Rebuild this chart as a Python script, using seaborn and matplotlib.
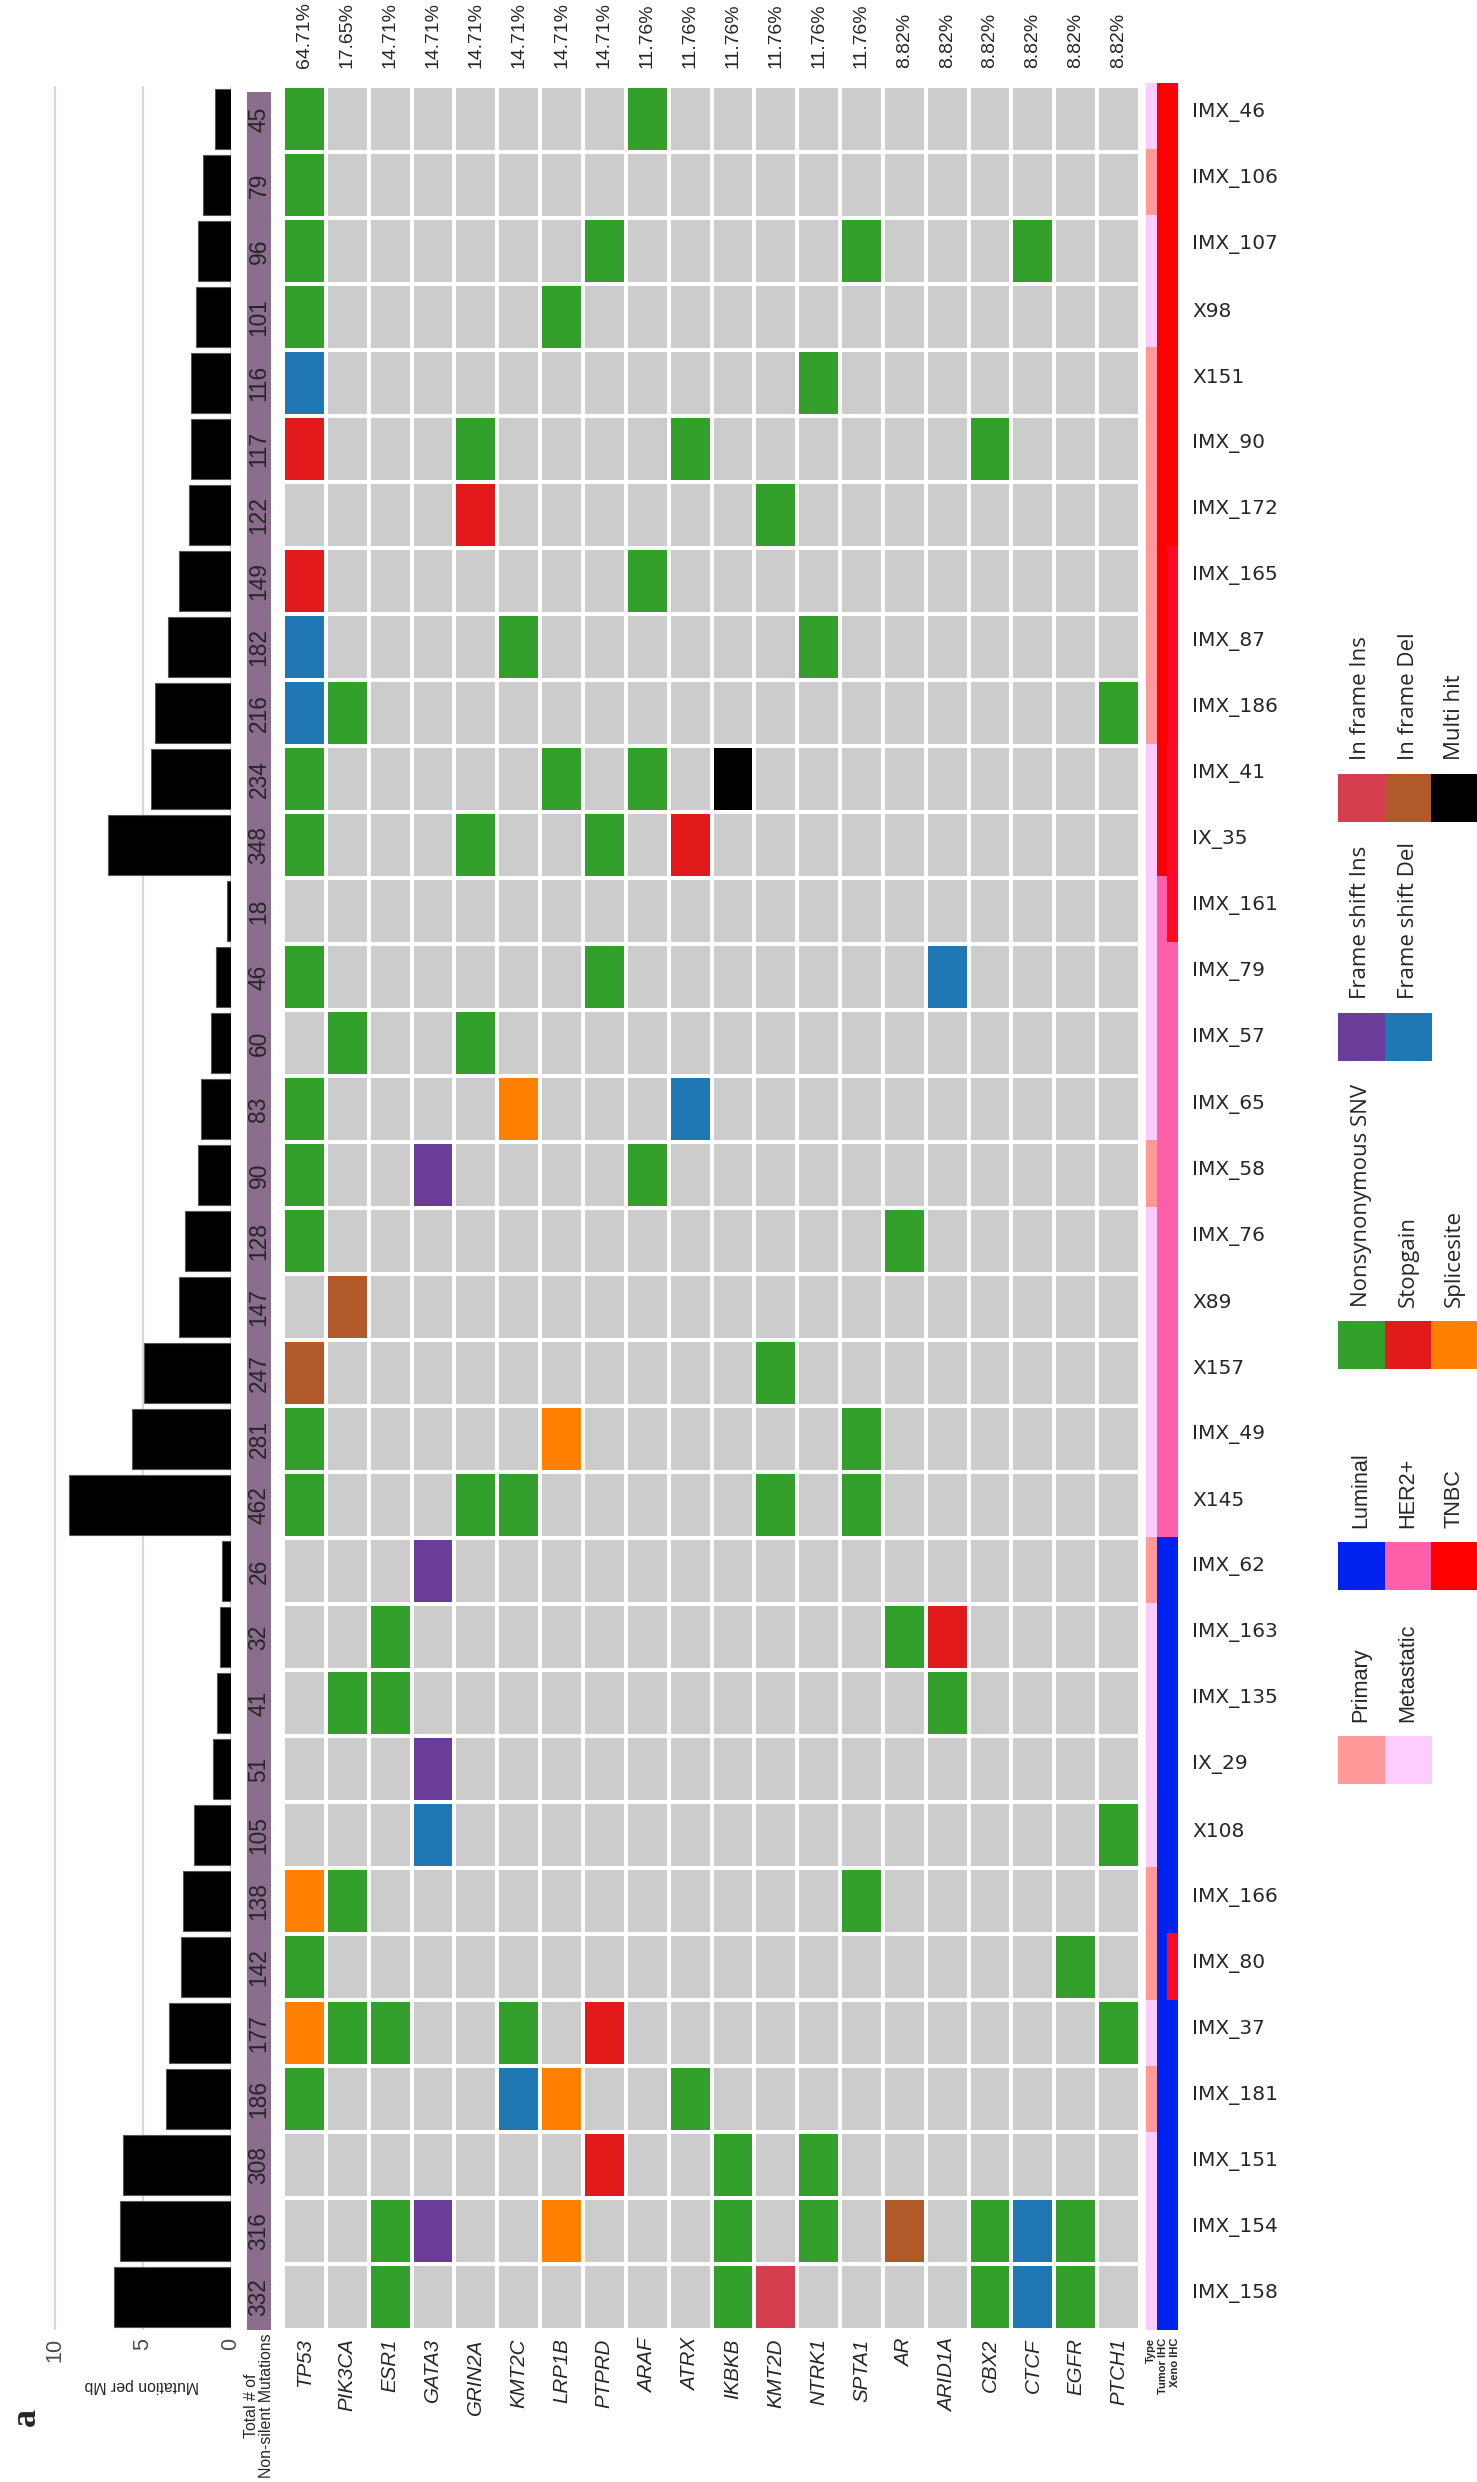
"""
plot.py - rotated oncoprint (mutation landscape of 34 PDX samples)
"""

import matplotlib
matplotlib.use("Agg")
import matplotlib.pyplot as plt
from matplotlib import font_manager
from matplotlib.colors import ListedColormap
from matplotlib.patches import Rectangle
import numpy as np
import pandas as pd
import seaborn as sns

# ── Data ──────────────────────────────────────────────────────────────────────
samples = ["IMX_46", "IMX_106", "IMX_107", "X98", "X151", "IMX_90", "IMX_172",
           "IMX_165", "IMX_87", "IMX_186", "IMX_41", "IX_35", "IMX_161", "IMX_79",
           "IMX_57", "IMX_65", "IMX_58", "IMX_76", "X89", "X157", "IMX_49", "X145",
           "IMX_62", "IMX_163", "IMX_135", "IX_29", "X108", "IMX_166", "IMX_80",
           "IMX_37", "IMX_181", "IMX_151", "IMX_154", "IMX_158"]

n_nonsilent = [45, 79, 96, 101, 116, 117, 122, 149, 182, 216, 234, 348,
               18, 46, 60, 83, 90, 128, 147, 247, 281, 462,
               26, 32, 41, 51, 105, 138, 142, 177, 186, 308, 316, 332]

mut_per_mb = [0.9, 1.6, 1.9, 2.0, 2.3, 2.3, 2.4, 2.95, 3.6, 4.3, 4.55, 7.0,
              0.25, 0.85, 1.15, 1.7, 1.85, 2.6, 2.95, 4.95, 5.6, 9.2,
              0.5, 0.65, 0.8, 1.0, 2.1, 2.75, 2.85, 3.55, 3.7, 6.15, 6.3, 6.65]

genes = ["TP53", "PIK3CA", "ESR1", "GATA3", "GRIN2A", "KMT2C", "LRP1B", "PTPRD",
         "ARAF", "ATRX", "IKBKB", "KMT2D", "NTRK1", "SPTA1", "AR", "ARID1A",
         "CBX2", "CTCF", "EGFR", "PTCH1"]

# one string per sample, one character per gene
# . none  N nonsyn SNV  S stopgain  P splicesite  I fs ins  D fs del
# i in-frame ins  d in-frame del  M multi hit
mutations = [
    "N.......N...........",  # IMX_46
    "N...................",  # IMX_106
    "N......N.....N...N..",  # IMX_107
    "N.....N.............",  # X98
    "D...........N.......",  # X151
    "S...N....N......N...",  # IMX_90
    "....S......N........",  # IMX_172
    "S.......N...........",  # IMX_165
    "D....N......N.......",  # IMX_87
    "DN.................N",  # IMX_186
    "N.....N.N.M.........",  # IMX_41
    "N...N..N.S..........",  # IX_35
    "....................",  # IMX_161
    "N......N.......D....",  # IMX_79
    ".N..N...............",  # IMX_57
    "N....P...D..........",  # IMX_65
    "N..I....N...........",  # IMX_58
    "N.............N.....",  # IMX_76
    ".d..................",  # X89
    "d..........N........",  # X157
    "N.....P......N......",  # IMX_49
    "N...NN.....N.N......",  # X145
    "...I................",  # IMX_62
    "..N...........NS....",  # IMX_163
    ".NN............N....",  # IMX_135
    "...I................",  # IX_29
    "...D...............N",  # X108
    "PN...........N......",  # IMX_166
    "N.................N.",  # IMX_80
    "PNN..N.S...........N",  # IMX_37
    "N....DP..N..........",  # IMX_181
    ".......S..N.N.......",  # IMX_151
    "..NI..P...N.N.d.NDN.",  # IMX_154
    "..N.......Ni....NDN.",  # IMX_158
]

sample_type = ["Met", "Prim", "Met", "Met", "Prim", "Prim", "Prim", "Prim", "Prim",
               "Prim", "Met", "Met", "Met", "Met", "Met", "Met", "Prim", "Met",
               "Met", "Met", "Met", "Met", "Prim", "Met", "Met", "Met", "Met",
               "Prim", "Prim", "Met", "Prim", "Met", "Met", "Met"]
tumor_ihc = ["TNBC"] * 12 + ["HER2+"] * 10 + ["Luminal"] * 12
xeno_ihc = [None] * 7 + ["TNBC_x"] * 6 + [None] * 15 + ["TNBC_x"] + [None] * 5

# ── Styles ────────────────────────────────────────────────────────────────────
mut_codes = [".", "N", "S", "P", "I", "D", "i", "d", "M"]
mut_colors = ["#CCCCCC", "#33A02C", "#E31A1C", "#FF7F00", "#6A3D9A",
              "#1F78B4", "#D53E4F", "#B15928", "#000000"]
ann_keys = ["Prim", "Met", "Luminal", "HER2+", "TNBC", "TNBC_x"]
ann_colors = ["#FF9999", "#FFCCFF", "#0022EE", "#FF5FA8", "#FF0000", "#FF0A26"]

sns.set_style("white")
plt.rcParams["font.family"] = ["Liberation Sans", "DejaVu Sans"]

# narrow face if the system has it, otherwise plain Liberation Sans a bit smaller
installed = {f.name for f in font_manager.fontManager.ttflist}
HAS_NARROW = "Liberation Sans Narrow" in installed
NARROW = ["Liberation Sans Narrow", "Liberation Sans"] if HAS_NARROW else ["Liberation Sans"]
k = 1.0 if HAS_NARROW else 0.82

W, H = 1477, 2482
fig = plt.figure(figsize=(W / 100, H / 100), dpi=100)


def px_axes(x0, y0, x1, y1):
    return fig.add_axes([x0 / W, 1 - y1 / H, (x1 - x0) / W, (y1 - y0) / H])


TOP, BOT = 86, 2330
n = len(samples)

# ── Mutation per Mb bars ──────────────────────────────────────────────────────
ax_bar = px_axes(40, TOP, 231, BOT)
df_bar = pd.DataFrame({"sample": samples, "mb": mut_per_mb})
for v in [0, 5, 10]:
    ax_bar.axvline(v, color="#D9D9D9", lw=1.6, zorder=0.5)
sns.barplot(data=df_bar, x="mb", y="sample", orient="h", color="black",
            width=0.91, edgecolor="#555555", linewidth=0.8, errorbar=None,
            saturation=1, ax=ax_bar)
ax_bar.set_xlim((231 - 40) / 17.6, 0)
ax_bar.set_ylim(n - 0.5, -0.5)
ax_bar.set_xticks([0, 5, 10])
ax_bar.set_xticklabels(["0", "5", "10"], rotation=90, family=NARROW,
                       fontsize=19 * k, color="#4D4D4D")
ax_bar.tick_params(axis="x", length=0, pad=6)
ax_bar.set_yticks([])
ax_bar.set_xlabel("")
ax_bar.set_ylabel("")
for s in ax_bar.spines.values():
    s.set_visible(False)
ax_bar.patch.set_alpha(0)

# ── Total non-silent mutation counts ──────────────────────────────────────────
ax_cnt = px_axes(247, TOP + 6, 271, BOT)
ax_cnt.set_facecolor("#8B6D8E")
ax_cnt.set_xlim(0, 1)
ax_cnt.set_ylim(n, 6 / 66)
for i, c in enumerate(n_nonsilent):
    ax_cnt.text(0.5, i + 0.5, str(c), rotation=90, ha="center", va="center",
                family=NARROW, fontsize=20 * k)
ax_cnt.set_xticks([])
ax_cnt.set_yticks([])
for s in ax_cnt.spines.values():
    s.set_visible(False)

# ── Oncoprint heatmap ─────────────────────────────────────────────────────────
code_mat = np.array([[mut_codes.index(ch) for ch in row] for row in mutations])
ax_hm = px_axes(283, TOP, 1140, BOT)
sns.heatmap(code_mat, cmap=ListedColormap(mut_colors), vmin=-0.5,
            vmax=len(mut_colors) - 0.5, linewidths=1.6, linecolor="white",
            cbar=False, xticklabels=genes, yticklabels=False, ax=ax_hm)
ax_hm.tick_params(axis="x", length=0, pad=6)
for lbl in ax_hm.get_xticklabels():
    lbl.set_rotation(90)
    lbl.set_style("italic")
    lbl.set_family(NARROW)
    lbl.set_fontsize(18 * k)

pct = (code_mat > 0).sum(axis=0) / n * 100
for j, p in enumerate(pct):
    ax_hm.annotate(f"{p:.2f}%", xy=(j + 0.5, 1), xycoords=("data", "axes fraction"),
                   xytext=(0, 13), textcoords="offset points", rotation=90,
                   ha="center", va="bottom", family=NARROW, fontsize=17 * k)

# ── Annotation columns (Type / Tumor IHC / Xeno IHC) ──────────────────────────
ann = np.array([[ann_keys.index(t), ann_keys.index(u),
                 ann_keys.index(x if x is not None else u)]
                for t, u, x in zip(sample_type, tumor_ihc, xeno_ihc)])
ax_ann = px_axes(1146, TOP - 3, 1178, BOT)
ax_ann.pcolormesh([0, 11, 21, 32], np.arange(n + 1), ann,
                  cmap=ListedColormap(ann_colors), vmin=-0.5,
                  vmax=len(ann_colors) - 0.5)
ax_ann.set_xlim(0, 32)
ax_ann.set_ylim(n, 0)
ax_ann.axis("off")
for i, name in enumerate(samples):
    ax_ann.text(46, i + 0.45, name, ha="left", va="center", family="DejaVu Sans",
                fontsize=14.5, clip_on=False)

for x, lab in zip([1151, 1163, 1175], ["Type", "Tumor IHC", "Xeno IHC"]):
    fig.text(x / W, 1 - 2338 / H, lab, rotation=90, ha="center", va="top",
             family=NARROW, fontsize=8, fontweight="bold")

# ── Side texts ────────────────────────────────────────────────────────────────
fig.text(259 / W, 1 - 2333 / H, "Total # of\nNon-silent Mutations", rotation=90,
         ha="center", va="top", multialignment="center", family=NARROW,
         fontsize=14 * k, linespacing=1.05)
fig.text(142 / W, 1 - 2385 / H, "Mutation per Mb", rotation=180, ha="center",
         va="center", family=NARROW, fontsize=14 * k)
fig.text(26 / W, 1 - 2417 / H, "a", rotation=90, ha="center", va="center",
         family=["Liberation Serif", "DejaVu Serif"], fontweight="bold", fontsize=26)

# ── Legends ───────────────────────────────────────────────────────────────────
legend_groups = [
    (["In frame Ins", "In frame Del", "Multi hit"], ["#D53E4F", "#B15928", "#000000"], 774, "Open Sans"),
    (["Frame shift Ins", "Frame shift Del"], ["#6A3D9A", "#1F78B4"], 1013, "Open Sans"),
    (["Nonsynonymous SNV", "Stopgain", "Splicesite"], ["#33A02C", "#E31A1C", "#FF7F00"], 1321, "Open Sans"),
    (["Luminal", "HER2+", "TNBC"], ["#0022EE", "#FF5FA8", "#FF0000"], 1542, "narrow"),
    (["Primary", "Metastatic"], ["#FF9999", "#FFCCFF"], 1736, "narrow"),
]
ax_leg = px_axes(1300, 600, W, 1850)
ax_leg.set_xlim(1300, W)
ax_leg.set_ylim(1850, 600)
ax_leg.axis("off")
col_x = [1338, 1385, 1431]
for labels, colors, y0, fam in legend_groups:
    family = ["Open Sans", "DejaVu Sans"] if fam == "Open Sans" else NARROW
    size = 16 if fam == "Open Sans" else 19 * k
    for m, (lab, col) in enumerate(zip(labels, colors)):
        ax_leg.add_patch(Rectangle((col_x[m], y0), 46.5, 48, color=col, lw=0))
        ax_leg.text(col_x[m] + 23, y0 - 14, lab, rotation=90, ha="center",
                    va="bottom", family=family, fontsize=size, clip_on=False)

fig.savefig("out.png", dpi=100)
plt.close(fig)
